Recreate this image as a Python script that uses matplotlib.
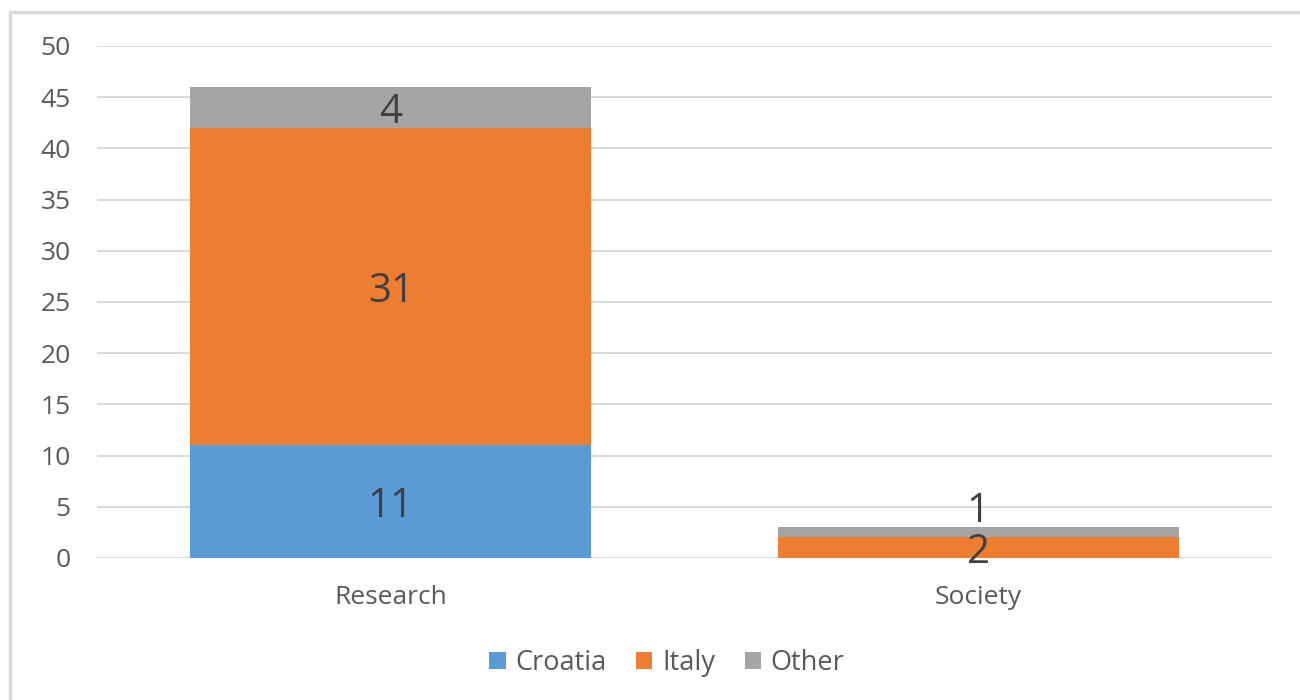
import numpy as np
import matplotlib.pyplot as plt
from matplotlib.patches import Rectangle

plt.rcParams['font.family'] = ['Open Sans', 'DejaVu Sans']

categories = ['Research', 'Society']
croatia = [11, 0]
italy = [31, 2]
other = [4, 1]

series = [('Croatia', croatia, '#5B9BD5'),
          ('Italy', italy, '#ED7D31'),
          ('Other', other, '#A5A5A5')]

fig = plt.figure(figsize=(13, 7), dpi=100)
ax = fig.add_axes([0.0746, 0.2029, 0.9039, 0.7314])

x = np.arange(len(categories))
width = 0.683
bottom = np.zeros(len(categories))
for name, vals, color in series:
    vals = np.array(vals, dtype=float)
    ax.bar(x, vals, width, bottom=bottom, color=color, label=name, zorder=2)
    for i, v in enumerate(vals):
        if v == 0:
            continue
        # small segments get their label pushed above the stack
        if v < 2 and bottom[i] > 0:
            ypos = bottom[i] + v + 2
        else:
            ypos = bottom[i] + v / 2
        ax.text(x[i], ypos, f"{int(v)}", ha='center', va='center_baseline',
                fontsize=29, color='#404040', zorder=3)
    bottom += vals

ax.set_xlim(-0.5, 1.5)
ax.set_ylim(0, 50)
ax.set_yticks(np.arange(0, 51, 5))
ax.yaxis.grid(True, color='#D9D9D9', linewidth=1.5, zorder=0)
ax.set_axisbelow(True)
for s in ax.spines.values():
    s.set_visible(False)
ax.tick_params(axis='both', length=0, labelsize=19, labelcolor='#595959')
ax.tick_params(axis='y', pad=19)
ax.tick_params(axis='x', pad=19.5)
ax.set_xticks(x)
ax.set_xticklabels(categories)

fig.legend(loc='center', bbox_to_anchor=(0.513, 0.053), ncol=3, frameon=False,
           fontsize=19.5, labelcolor='#595959', handlelength=0.6, handleheight=0.6,
           handletextpad=0.35, columnspacing=1.1)

# chart border
fig.patches.append(Rectangle((10 / 1300, -0.1), 1.2, (700 - 12) / 700 + 0.1,
                             transform=fig.transFigure, fill=False,
                             edgecolor='#D9D9D9', linewidth=2.5))

fig.savefig('out.png', dpi=100)
